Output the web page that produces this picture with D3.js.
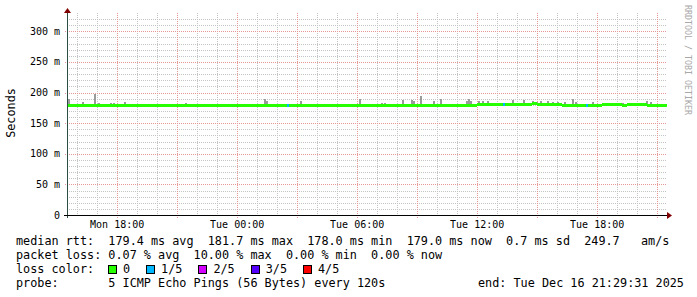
<!DOCTYPE html>
<html>
<head>
<meta charset="utf-8">
<script src="https://cdn.jsdelivr.net/npm/d3@7"></script>
<style>
body { margin: 0; background: #fff; }
text { font-family: "DejaVu Sans Mono", monospace; white-space: pre; }
</style>
</head>
<body>
<div id="chart"></div>
<script>
// median rtt (ms), one value per 15 minute bin, starting at the graph start
const medianMs = [
  179.1, 179.0, 179.0, 179.1, 179.0, 178.9, 179.0, 179.0, 179.1, 179.0,
  179.0, 179.0, 178.9, 179.0, 179.0, 179.0, 179.1, 179.0, 178.9, 178.6,
  179.0, 178.6, 178.9, 178.2, 178.1, 178.3, 179.0, 179.1, 179.2, 179.4,
  179.5, 179.5, 179.4, 179.5, 179.5, 179.6, 179.5, 179.5, 179.4, 179.5,
  179.5, 179.5, 179.5, 179.4, 179.5, 179.5, 179.6, 179.5, 179.5, 179.5,
  179.5, 179.4, 179.5, 179.5, 179.5, 179.6, 179.5, 179.5, 179.5, 179.5,
  179.5, 179.4, 179.5, 179.5, 179.5, 179.5, 179.6, 179.5, 179.4, 179.5,
  179.5, 179.5, 179.6, 179.5, 179.5, 179.6, 179.5, 179.5, 179.6, 179.6,
  179.6, 179.7, 179.8, 179.9, 180.0, 180.0, 180.0, 180.1, 180.6, 181.0,
  181.1, 181.2, 181.0, 181.5, 181.1, 181.0, 181.1, 180.9, 180.8, 179.3,
  178.4, 178.5, 178.8, 179.0, 179.0, 179.2, 179.5, 179.8, 179.8, 179.8,
  179.8, 179.7, 179.8, 179.8, 179.9, 179.8, 179.7, 179.6, 179.4, 179.2
];

// smoke spikes: time and highest ping (ms)
const smokeTimes = [
  '2025-12-15 15:32', '2025-12-15 16:14', '2025-12-15 16:50', '2025-12-15 17:02',
  '2025-12-15 17:38', '2025-12-15 17:47', '2025-12-15 18:20', '2025-12-15 21:23',
  '2025-12-15 23:20', '2025-12-15 23:35', '2025-12-16 00:38', '2025-12-16 01:20',
  '2025-12-16 01:26', '2025-12-16 02:17', '2025-12-16 03:08', '2025-12-16 04:02',
  '2025-12-16 04:26', '2025-12-16 06:05', '2025-12-16 07:11', '2025-12-16 07:20',
  '2025-12-16 07:35', '2025-12-16 08:14', '2025-12-16 08:41', '2025-12-16 08:47',
  '2025-12-16 09:08', '2025-12-16 09:47', '2025-12-16 10:08', '2025-12-16 10:44',
  '2025-12-16 11:26', '2025-12-16 11:32', '2025-12-16 11:38', '2025-12-16 12:02',
  '2025-12-16 12:14', '2025-12-16 12:29', '2025-12-16 13:08', '2025-12-16 13:44',
  '2025-12-16 14:17', '2025-12-16 14:44', '2025-12-16 14:56', '2025-12-16 15:08',
  '2025-12-16 15:29', '2025-12-16 15:44', '2025-12-16 15:59', '2025-12-16 16:20',
  '2025-12-16 16:44', '2025-12-16 16:53', '2025-12-16 17:44', '2025-12-16 19:14',
  '2025-12-16 19:53', '2025-12-16 20:26', '2025-12-16 20:38'
];
const smokeMaxMs = [
  190, 184, 198, 183, 183, 183, 185, 183,
  182, 182, 182, 190, 186, 182, 187, 182,
  182, 190, 183, 183, 182, 188, 188, 186,
  194, 187, 189, 182, 187, 190, 187, 186,
  186, 187, 182, 188, 188, 187, 184, 186,
  186, 185, 184, 185, 189, 185, 184, 183,
  183, 187, 184
];

// samples with packet loss (number of lost pings out of 5)
const lossTimes = ['2025-12-16 02:29', '2025-12-16 13:17', '2025-12-16 17:26'];
const lossCounts = [1, 1, 1];

const lossLabels = ['0', '1/5', '2/5', '3/5', '4/5'];
const lossColors = ['#26ff00', '#00b8ff', '#d400ff', '#5500ff', '#ff0000'];

const yTicks = [0, 50, 100, 150, 200, 250, 300];

const legendLines = [
  'median rtt:  179.4 ms avg  181.7 ms max  178.0 ms min  179.0 ms now  0.7 ms sd  249.7   am/s',
  'packet loss: 0.07 % avg  10.00 % max  0.00 % min  0.00 % now'
];
const probeText = 'probe:       5 ICMP Echo Pings (56 Bytes) every 120s';
const endText = 'end: Tue Dec 16 21:29:31 2025';

const startTime = new Date(2025, 11, 15, 15, 29, 31);
const endTime = new Date(2025, 11, 16, 21, 29, 31);
const parseTime = d3.timeParse('%Y-%m-%d %H:%M');

const width = 697;
const height = 297;
const plot = { left: 67, right: 667, top: 13, bottom: 215 };

const svg = d3.select('#chart')
  .append('svg')
  .attr('width', width)
  .attr('height', height)
  .style('display', 'block');

const xScale = d3.scaleTime()
  .domain([startTime, endTime])
  .range([plot.left, plot.right]);

const yScale = d3.scaleLinear()
  .domain([0, 330])
  .range([plot.bottom, plot.top]);

const px = v => Math.round(v) + 0.5;

// horizontal grid
const grid = svg.append('g').attr('shape-rendering', 'crispEdges');
d3.range(10, 330, 10).filter(v => v % 50 !== 0).forEach(v => {
  grid.append('line')
    .attr('x1', plot.left).attr('x2', plot.right)
    .attr('y1', px(yScale(v))).attr('y2', px(yScale(v)))
    .attr('stroke', '#c4c4c4')
    .attr('stroke-dasharray', '1,1');
});

// vertical grid, every hour (minor) and every 3 hours (major)
const hours = d3.timeHour.range(startTime, endTime);
hours.filter(h => h.getHours() % 3 !== 0).forEach(h => {
  grid.append('line')
    .attr('x1', px(xScale(h))).attr('x2', px(xScale(h)))
    .attr('y1', plot.top).attr('y2', plot.bottom)
    .attr('stroke', '#c4c4c4')
    .attr('stroke-dasharray', '1,1');
});
yTicks.filter(v => v > 0).forEach(v => {
  grid.append('line')
    .attr('x1', plot.left - 2).attr('x2', plot.right)
    .attr('y1', px(yScale(v))).attr('y2', px(yScale(v)))
    .attr('stroke', '#e89696')
    .attr('stroke-dasharray', '1,1');
});
hours.filter(h => h.getHours() % 3 === 0).forEach(h => {
  grid.append('line')
    .attr('x1', px(xScale(h))).attr('x2', px(xScale(h)))
    .attr('y1', plot.top).attr('y2', plot.bottom + 3)
    .attr('stroke', '#e89696')
    .attr('stroke-dasharray', '1,1');
});

// smoke
const smoke = smokeTimes.map((t, i) => ({ time: parseTime(t), max: smokeMaxMs[i] }));
const binMs = 15 * 60 * 1000;
const medianAt = t => medianMs[Math.min(medianMs.length - 1, Math.floor((t - startTime) / binMs))];

svg.append('g')
  .attr('shape-rendering', 'crispEdges')
  .selectAll('rect')
  .data(smoke)
  .enter()
  .append('rect')
  .attr('x', d => Math.round(xScale(d.time)))
  .attr('width', 2)
  .attr('y', d => Math.round(yScale(d.max)))
  .attr('height', d => Math.max(1, Math.round(yScale(medianAt(d.time))) - Math.round(yScale(d.max))))
  .attr('fill', '#9a9a9a');

// median line, coloured by loss
const bins = medianMs.map((m, i) => ({
  t0: new Date(+startTime + i * binMs),
  t1: new Date(+startTime + (i + 1) * binMs),
  median: m
}));

svg.append('g')
  .attr('shape-rendering', 'crispEdges')
  .selectAll('rect')
  .data(bins)
  .enter()
  .append('rect')
  .attr('x', d => Math.round(xScale(d.t0)))
  .attr('width', d => Math.round(xScale(d.t1)) - Math.round(xScale(d.t0)))
  .attr('y', d => Math.round(yScale(d.median) - 1.5))
  .attr('height', 3)
  .attr('fill', lossColors[0]);

const losses = lossTimes.map((t, i) => ({ time: parseTime(t), count: lossCounts[i] }));
svg.append('g')
  .attr('shape-rendering', 'crispEdges')
  .selectAll('rect')
  .data(losses)
  .enter()
  .append('rect')
  .attr('x', d => Math.round(xScale(d.time)))
  .attr('width', 2)
  .attr('y', d => Math.round(yScale(medianAt(d.time)) - 1.5))
  .attr('height', 3)
  .attr('fill', d => lossColors[d.count]);

// axes
const axis = svg.append('g').attr('shape-rendering', 'crispEdges');
axis.append('line')
  .attr('x1', plot.left + 0.5).attr('x2', plot.left + 0.5)
  .attr('y1', plot.top - 2).attr('y2', plot.bottom + 3)
  .attr('stroke', '#2c4d43');
axis.append('line')
  .attr('x1', plot.left - 3).attr('x2', plot.right + 2)
  .attr('y1', plot.bottom + 0.5).attr('y2', plot.bottom + 0.5)
  .attr('stroke', '#000');

svg.append('path')
  .attr('d', `M${plot.left - 3},${plot.top} L${plot.left + 4},${plot.top} L${plot.left + 0.5},${plot.top - 5} Z`)
  .attr('fill', '#800000');
svg.append('path')
  .attr('d', `M${plot.right},${plot.bottom - 3} L${plot.right},${plot.bottom + 4} L${plot.right + 5},${plot.bottom + 0.5} Z`)
  .attr('fill', '#800000');

// tick labels
svg.append('g')
  .selectAll('text')
  .data(yTicks)
  .enter()
  .append('text')
  .attr('x', 60)
  .attr('y', d => yScale(d) + 3.5)
  .attr('text-anchor', 'end')
  .style('font-size', '10px')
  .text(d => d === 0 ? '0' : `${d} m`);

const fmt = d3.timeFormat('%a %H:%M');
svg.append('g')
  .selectAll('text')
  .data(hours.filter(h => h.getHours() % 6 === 0))
  .enter()
  .append('text')
  .attr('x', d => xScale(d))
  .attr('y', 228)
  .attr('text-anchor', 'middle')
  .style('font-size', '10px')
  .text(d => fmt(d));

svg.append('text')
  .attr('transform', 'translate(15,113) rotate(-90)')
  .attr('text-anchor', 'middle')
  .style('font-size', '11.8px')
  .text('Seconds');

svg.append('text')
  .attr('transform', 'translate(684.5,5) rotate(90)')
  .attr('textLength', 110)
  .attr('lengthAdjust', 'spacingAndGlyphs')
  .attr('fill', '#a8a8a8')
  .style('font-size', '8px')
  .text('RRDTOOL / TOBI OETIKER');

// legend
const legend = svg.append('g').style('font-size', '11.8px');
legendLines.forEach((line, i) => {
  legend.append('text').attr('x', 16).attr('y', 245 + i * 14).text(line);
});
legend.append('text').attr('x', 16).attr('y', 273).text('loss color:');

let lx = 108;
lossLabels.forEach((label, i) => {
  legend.append('rect')
    .attr('x', lx + 0.5).attr('y', 265.5)
    .attr('width', 8).attr('height', 8)
    .attr('fill', lossColors[i])
    .attr('stroke', '#000')
    .attr('shape-rendering', 'crispEdges');
  legend.append('text').attr('x', lx + 15).attr('y', 273).text(label);
  lx += 15 + label.length * 7.1 + 16;
});

legend.append('text').attr('x', 16).attr('y', 287).text(probeText);
legend.append('text').attr('x', 478).attr('y', 287).text(endText);
</script>
</body>
</html>
